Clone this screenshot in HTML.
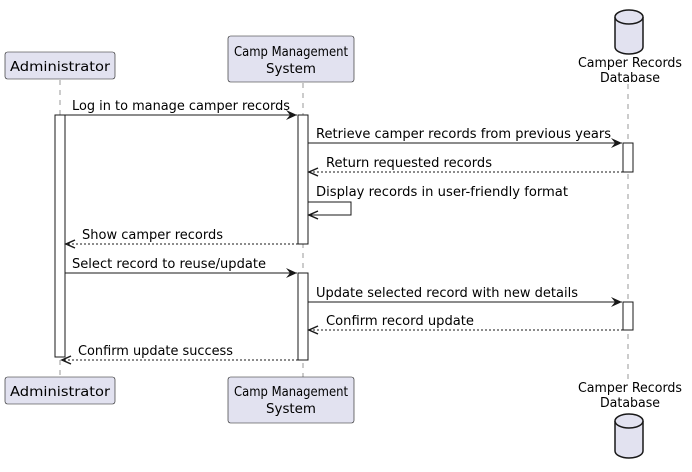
<!DOCTYPE html>
<html><head><meta charset="utf-8"><style>html,body{margin:0;padding:0;background:#fff}svg{display:block}text{font-family:"DejaVu Sans","Liberation Sans",sans-serif;font-size:13px;fill:#000}</style></head><body>
<svg width="692" height="472" viewBox="0 0 692 472" xmlns="http://www.w3.org/2000/svg">
<defs>
<marker id="a" markerWidth="12" markerHeight="10" refX="11" refY="5" orient="auto" markerUnits="userSpaceOnUse"><path d="M0,0 L11,5 L0,10 L4,5 Z" fill="#181818"/></marker>
<marker id="o" markerWidth="12" markerHeight="10" refX="10" refY="5" orient="auto" markerUnits="userSpaceOnUse"><path d="M1,1 L10,5 L1,9" fill="none" stroke="#181818" stroke-width="1.5"/></marker>
</defs>
<g stroke="#555" stroke-dasharray="5,5" stroke-width="0.6">
<line x1="60" y1="80" x2="60" y2="377"/><line x1="303" y1="83" x2="303" y2="377"/><line x1="628" y1="84" x2="628" y2="380"/>
</g>
<g fill="#E2E2F0" stroke="#181818" stroke-width="0.6">
<rect x="5" y="52" width="110" height="27" rx="2.5"/><rect x="228" y="36" width="126" height="46" rx="2.5"/>
<rect x="5" y="377" width="110" height="27" rx="2.5"/><rect x="228" y="377" width="126" height="46" rx="2.5"/>
</g>
<g fill="#E2E2F0" stroke="#181818" stroke-width="1.5">
<path d="M615,17 a14,7 0 0 1 28,0 v30 a14,7 0 0 1 -28,0 Z"/><path d="M615,17 a14,7 0 0 0 28,0"/>
<path d="M615,421 a14,7 0 0 1 28,0 v30 a14,7 0 0 1 -28,0 Z"/><path d="M615,421 a14,7 0 0 0 28,0"/>
</g>
<g text-anchor="middle" style="font-size:14px">
<text x="60" y="71" textLength="100" lengthAdjust="spacingAndGlyphs">Administrator</text>
<text x="291" y="56" style="font-size:13.5px" textLength="114" lengthAdjust="spacingAndGlyphs">Camp Management</text><text x="291" y="73" textLength="50" lengthAdjust="spacingAndGlyphs">System</text>
<text x="630" y="67" textLength="104" lengthAdjust="spacingAndGlyphs">Camper Records</text><text x="630" y="82" textLength="60" lengthAdjust="spacingAndGlyphs">Database</text>
<text x="60" y="396" textLength="100" lengthAdjust="spacingAndGlyphs">Administrator</text>
<text x="291" y="396" style="font-size:13.5px" textLength="114" lengthAdjust="spacingAndGlyphs">Camp Management</text><text x="291" y="413" textLength="50" lengthAdjust="spacingAndGlyphs">System</text>
<text x="630" y="392" textLength="104" lengthAdjust="spacingAndGlyphs">Camper Records</text><text x="630" y="407" textLength="60" lengthAdjust="spacingAndGlyphs">Database</text>
</g>
<g fill="#fff" stroke="#181818" stroke-width="1">
<rect x="55" y="115" width="10" height="242"/>
<rect x="298" y="115" width="10" height="129"/>
<rect x="298" y="273" width="10" height="87"/>
<rect x="623" y="143" width="10" height="29"/>
<rect x="623" y="302" width="10" height="28"/>
</g>
<g stroke="#181818" stroke-width="1" fill="none">
<line x1="65" y1="115" x2="297" y2="115" marker-end="url(#a)"/>
<line x1="308" y1="143" x2="622" y2="143" marker-end="url(#a)"/>
<line x1="623" y1="172" x2="309" y2="172" stroke-dasharray="2,2" marker-end="url(#o)"/>
<polyline points="308,202 351,202 351,215 309,215" marker-end="url(#o)"/>
<line x1="298" y1="244" x2="66" y2="244" stroke-dasharray="2,2" marker-end="url(#o)"/>
<line x1="65" y1="273" x2="297" y2="273" marker-end="url(#a)"/>
<line x1="308" y1="302" x2="622" y2="302" marker-end="url(#a)"/>
<line x1="623" y1="330" x2="309" y2="330" stroke-dasharray="2,2" marker-end="url(#o)"/>
<line x1="298" y1="360" x2="62" y2="360" stroke-dasharray="2,2" marker-end="url(#o)"/>
</g>
<text x="72" y="110" textLength="218" lengthAdjust="spacingAndGlyphs">Log in to manage camper records</text>
<text x="316" y="138" textLength="295" lengthAdjust="spacingAndGlyphs">Retrieve camper records from previous years</text>
<text x="326" y="167" textLength="166" lengthAdjust="spacingAndGlyphs">Return requested records</text>
<text x="316" y="196" textLength="252" lengthAdjust="spacingAndGlyphs">Display records in user-friendly format</text>
<text x="82" y="239" textLength="141" lengthAdjust="spacingAndGlyphs">Show camper records</text>
<text x="72" y="268" textLength="194" lengthAdjust="spacingAndGlyphs">Select record to reuse/update</text>
<text x="316" y="297" textLength="262" lengthAdjust="spacingAndGlyphs">Update selected record with new details</text>
<text x="326" y="325" textLength="148" lengthAdjust="spacingAndGlyphs">Confirm record update</text>
<text x="78" y="355" textLength="155" lengthAdjust="spacingAndGlyphs">Confirm update success</text>
</svg>
</body></html>
